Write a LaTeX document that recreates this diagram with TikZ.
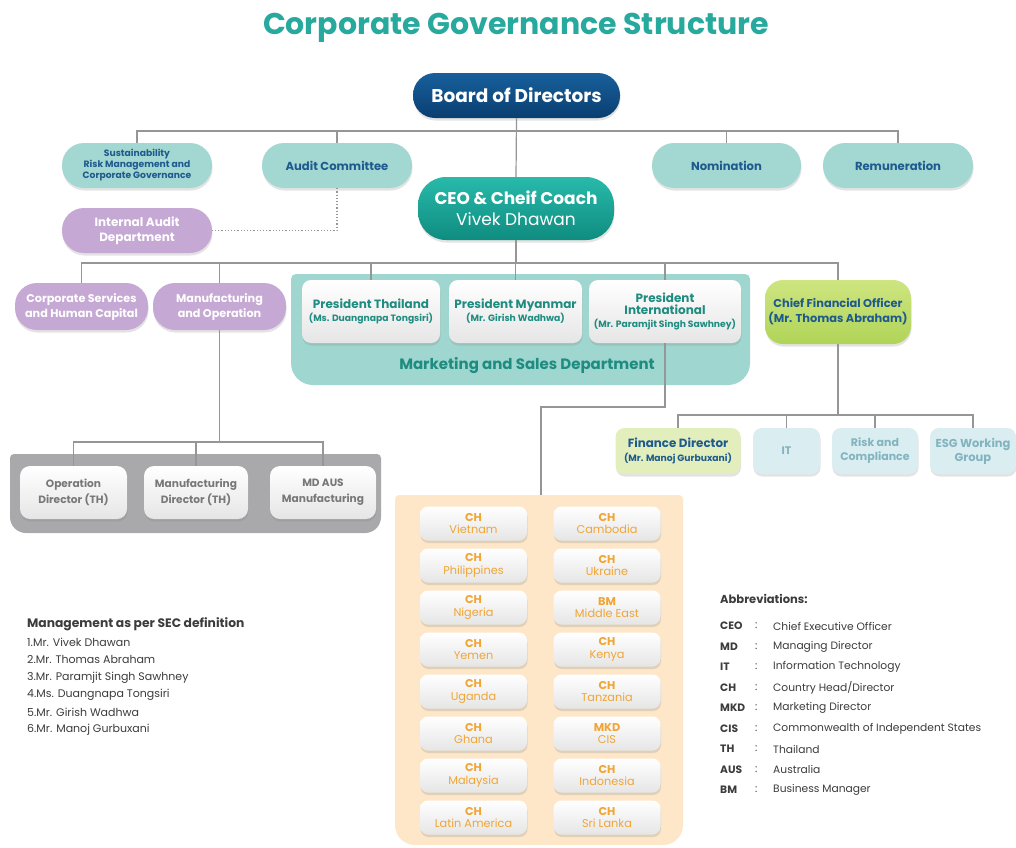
\documentclass[tikz,border=0pt]{standalone}
\usepackage{fontspec}
\setmainfont{Poppins}
\usetikzlibrary{shadows,calc}
\definecolor{titleteal}{RGB}{39,169,158}
\definecolor{boardA}{RGB}{24,96,156}
\definecolor{boardB}{RGB}{10,62,112}
\definecolor{ceoA}{RGB}{40,186,170}
\definecolor{ceoB}{RGB}{15,140,128}
\definecolor{lteal}{RGB}{163,215,209}
\definecolor{navytxt}{RGB}{30,90,142}
\definecolor{purp}{RGB}{198,168,212}
\definecolor{mkt}{RGB}{159,214,207}
\definecolor{mkttxt}{RGB}{30,140,128}
\definecolor{limeA}{RGB}{206,229,128}
\definecolor{limeB}{RGB}{176,212,88}
\definecolor{palelime}{RGB}{226,238,188}
\definecolor{paleblue}{RGB}{218,237,240}
\definecolor{paletxt}{RGB}{130,180,192}
\definecolor{greybox}{RGB}{169,169,171}
\definecolor{greytxt}{RGB}{120,120,120}
\definecolor{peach}{RGB}{253,231,200}
\definecolor{orangetxt}{RGB}{240,165,53}
\definecolor{conncol}{RGB}{150,150,150}
\definecolor{bodytxt}{RGB}{60,60,60}
\begin{document}
\begin{tikzpicture}[x=1pt,y=-1pt,
  sz/.style 2 args={minimum width=#1pt, minimum height=#2pt},
  base/.style={align=center, inner sep=0pt, drop shadow={opacity=0.22, shadow xshift=0.5pt, shadow yshift=-2.5pt}},
  pillB/.style={base, rounded corners=22pt, top color=boardA, bottom color=boardB, text=white, font=\fontsize{18.5}{21}\selectfont\bfseries},
  pillT/.style={base, rounded corners=22pt, fill=lteal, text=navytxt, font=\fontsize{11.6}{14}\selectfont\bfseries},
  pillP/.style={base, rounded corners=22pt, fill=purp, text=white, font=\fontsize{11.2}{15}\selectfont\bfseries},
  ceobox/.style={base, rounded corners=28pt, top color=ceoA, bottom color=ceoB, text=white, font=\fontsize{17}{21}\selectfont},
  wbox/.style={base, rounded corners=9pt, top color=white, middle color=white, bottom color=black!10, text=mkttxt},
  cfobox/.style={base, rounded corners=18pt, top color=limeA, bottom color=limeB, text=navytxt, font=\fontsize{11.4}{15}\selectfont\bfseries},
  sbox/.style={base, rounded corners=9pt, text=paletxt, font=\fontsize{11}{14}\selectfont\bfseries},
  gbox/.style={base, rounded corners=10pt, top color=white, middle color=white, bottom color=black!10, text=greytxt, font=\fontsize{10.6}{16}\selectfont\bfseries},
  cbox/.style={base, rounded corners=8pt, sz={107}{34}, top color=white, middle color=white, bottom color=black!10, text=orangetxt, font=\fontsize{11.3}{12.5}\selectfont},
  conn/.style={draw=conncol, line width=1.2pt},
  dconn/.style={draw=conncol, line width=1.2pt, dotted},
  txt/.style={anchor=west, inner sep=0pt, text=bodytxt, font=\fontsize{11}{13}\selectfont}
]
\useasboundingbox[fill=white] (0,0) rectangle (1016,847);

% title
\node[text=titleteal, font=\fontsize{30}{34}\selectfont\bfseries] (title) at (516,28) {Corporate Governance Structure};

% containers
\fill[mkt] [rounded corners=5pt] (520,274) -- (750,274) -- (750,330) [rounded corners=22pt] -- (750,385) -- (291,385) -- (291,330) [rounded corners=5pt] -- (291,274) -- cycle;
\fill[greybox] [rounded corners=4pt] (200,454) -- (381,454) -- (381,490) [rounded corners=16pt] -- (381,533) -- (10,533) -- (10,490) [rounded corners=4pt] -- (10,454) -- cycle;
\fill[peach] [rounded corners=4pt] (540,495) -- (683,495) -- (683,700) [rounded corners=20pt] -- (683,845) -- (395,845) -- (395,700) [rounded corners=4pt] -- (395,495) -- cycle;

% level 0/1
\node[pillB, sz={207}{45}] (board) at (516.5,95.5) {Board of Directors};
\node[pillT, sz={150}{45}, font=\fontsize{9.2}{11}\selectfont\bfseries] (sus) at (137,165.5) {Sustainability\\Risk Management and\\Corporate Governance};
\node[pillT, sz={150}{45}] (aud) at (337,165.5) {Audit Committee};
\node[pillT, sz={149}{45}] (nom) at (726.5,165.5) {Nomination};
\node[pillT, sz={150}{45}] (rem) at (898,165.5) {Remuneration};
\node[ceobox, sz={196}{63}] (ceo) at (516,208.5) {\textbf{CEO \& Cheif Coach}\\Vivek Dhawan};
\node[pillP, sz={150}{45}, font=\fontsize{12}{15}\selectfont\bfseries] (iad) at (137,230.5) {Internal Audit\\Department};

% level 2
\node[pillP, sz={133}{47}] (csh) at (81.5,306.5) {Corporate Services\\and Human Capital};
\node[pillP, sz={133}{47}] (mfg) at (219.5,306.5) {Manufacturing\\and Operation};
\node[wbox, sz={138}{63}] (pth) at (371,311.5) {{\fontsize{12}{14}\selectfont\bfseries President Thailand}\\[1pt]{\fontsize{9.2}{11}\selectfont\bfseries (Ms. Duangnapa Tongsiri)}};
\node[wbox, sz={133}{63}] (pmy) at (515.5,311.5) {{\fontsize{12}{14}\selectfont\bfseries President Myanmar}\\[1pt]{\fontsize{9.2}{11}\selectfont\bfseries (Mr. Girish Wadhwa)}};
\node[wbox, sz={152}{63}] (pint) at (665,311.5) {{\fontsize{12}{14}\selectfont\bfseries President}\\{\fontsize{12}{14}\selectfont\bfseries International}\\[1pt]{\fontsize{9.2}{11}\selectfont\bfseries (Mr. Paramjit Singh Sawhney)}};
\node[text=mkttxt, font=\fontsize{15}{18}\selectfont\bfseries, inner sep=0pt] (mktlbl) at (527,366) {Marketing and Sales Department};
\node[cfobox, sz={146}{64}] (cfo) at (838,312) {Chief Financial Officer\\(Mr. Thomas Abraham)};

% CFO children
\node[sbox, sz={125}{46}, fill=palelime, text=navytxt] (fd) at (678,451) {{\fontsize{11.9}{14}\selectfont\bfseries Finance Director}\\{\fontsize{9.2}{11}\selectfont\bfseries (Mr. Manoj Gurbuxani)}};
\node[sbox, sz={67}{46}, fill=paleblue] (it) at (786.5,451) {IT};
\node[sbox, sz={86}{46}, fill=paleblue] (rc) at (875,451) {Risk and\\Compliance};
\node[sbox, sz={86}{46}, fill=paleblue, font=\fontsize{11.5}{14}\selectfont\bfseries] (esg) at (973,451) {ESG Working\\Group};

% manufacturing children
\node[gbox, sz={107}{53}] (od) at (73.5,492.5) {Operation\\Director (TH)};
\node[gbox, sz={104}{53}] (md) at (196,492.5) {Manufacturing\\Director (TH)};
\node[gbox, sz={106}{53}] (mdaus) at (323,492.5) {MD AUS\\Manufacturing};

% country heads
\foreach \n/\c/\r/\a/\b in {1/0/0/CH/Vietnam, 2/0/1/CH/Philippines, 3/0/2/CH/Nigeria, 4/0/3/CH/Yemen, 5/0/4/CH/Uganda, 6/0/5/CH/Ghana, 7/0/6/CH/Malaysia, 8/0/7/CH/Latin America, 9/1/0/CH/Cambodia, 10/1/1/CH/Ukraine, 11/1/2/BM/Middle East, 12/1/3/CH/Kenya, 13/1/4/CH/Tanzania, 14/1/5/MKD/CIS, 15/1/6/CH/Indonesia, 16/1/7/CH/Sri Lanka}
  \node[cbox] (c\n) at ({473.5+133.5*\c},{523.5+42*\r}) {\textbf{\a}\\\b};

% connectors
\coordinate (bus1) at (516,131);
\coordinate (bus2) at (516,263);
\coordinate (bus3) at (219.5,442);
\coordinate (bus4) at (838,415);
\coordinate (turn) at (541,407);
\coordinate (otop) at (541,495);
\draw[conn] (board.south) -- (ceo.north);
\draw[conn] (sus.north) |- (bus1) -| (rem.north);
\draw[conn] (aud.north) -- (aud.north |- bus1);
\draw[conn] (nom.north) -- (nom.north |- bus1);
\draw[dconn] (aud.south) |- (iad.east);
\draw[conn] (ceo.south) -- (bus2);
\draw[conn] (csh.north) |- (bus2) -| (cfo.north);
\draw[conn] (mfg.north) -- (mfg.north |- bus2);
\draw[conn] (pth.north) -- (pth.north |- bus2);
\draw[conn] (pmy.north) -- (pmy.north |- bus2);
\draw[conn] (pint.north) -- (pint.north |- bus2);
\draw[conn] (mfg.south) -- (bus3);
\draw[conn] (od.north) |- (bus3) -| (mdaus.north);
\draw[conn] (md.north) -- (md.north |- bus3);
\draw[conn] (pint.south) |- (turn) -- (otop);
\draw[conn] (cfo.south) -- (bus4);
\draw[conn] (fd.north) |- (bus4) -| (esg.north);
\draw[conn] (it.north) -- (it.north |- bus4);
\draw[conn] (rc.north) -- (rc.north |- bus4);

% management list
\node[txt, font=\fontsize{12.3}{15}\selectfont\bfseries] (m0) at (27,624) {Management as per SEC definition};
\foreach \i/\t in {1/Mr. Vivek Dhawan, 2/Mr. Thomas Abraham, 3/Mr. Paramjit Singh Sawhney, 4/Ms. Duangnapa Tongsiri, 5/Mr. Girish Wadhwa, 6/Mr. Manoj Gurbuxani}
  \node[txt] (m\i) at (27,{624.5+17.6*\i}) {\i.\t};

% abbreviations
\node[txt, font=\fontsize{11.5}{14}\selectfont\bfseries] (ab0) at (720,599) {Abbreviations:};
\foreach \i/\a/\d in {1/CEO/Chief Executive Officer, 2/MD/Managing Director, 3/IT/Information Technology, 4/CH/{Country Head/Director}, 5/MKD/Marketing Director, 6/CIS/Commonwealth of Independent States, 7/TH/Thailand, 8/AUS/Australia, 9/BM/Business Manager}{
  \node[txt, font=\fontsize{10.7}{13}\selectfont\bfseries] (aa\i) at (720,{605.5+20.5*\i}) {\a};
  \node[txt, font=\fontsize{10.7}{13}\selectfont] (ac\i) at (755,{605.5+20.5*\i}) {:};
  \node[txt, font=\fontsize{10.7}{13}\selectfont] (ad\i) at (773,{605.5+20.5*\i}) {\d};
}
\end{tikzpicture}
\end{document}
